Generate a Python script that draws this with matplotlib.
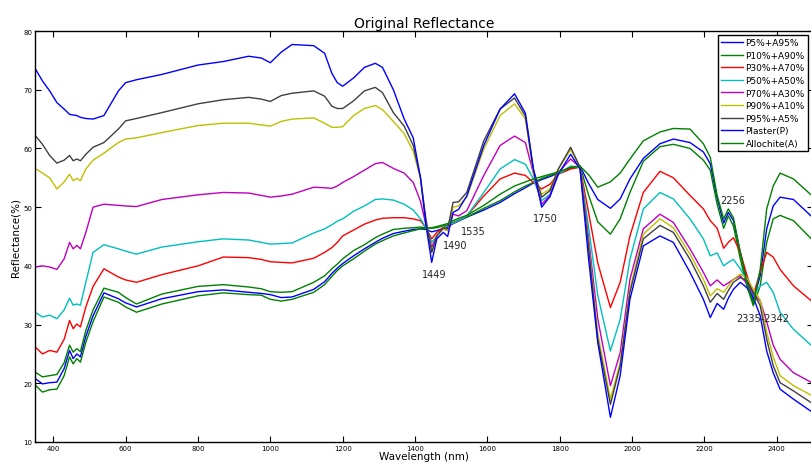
import matplotlib
matplotlib.use("Agg")
import matplotlib.pyplot as plt
import numpy as np

# wavelength grid (nm)
wavelength = [350, 370, 390, 410, 430, 445, 455, 465, 475, 490, 510, 540, 580, 600, 630,
              700, 800, 870, 940, 975, 1000, 1030, 1060, 1120, 1150, 1170, 1185, 1200,
              1230, 1260, 1290, 1310, 1340, 1370, 1395, 1415, 1430, 1446, 1460, 1478,
              1490, 1505, 1520, 1543, 1590, 1635, 1675, 1705, 1727, 1750, 1773, 1796,
              1830, 1856,
              1880, 1905, 1940, 1967, 1994, 2031, 2077, 2114, 2160, 2197, 2216, 2235,
              2253, 2266, 2280, 2299, 2317, 2335, 2354, 2372, 2390, 2409, 2446, 2500]

p5_a95 = [20.8, 19.9, 20.1, 20.2, 22.5, 25.6, 24.2, 25.0, 24.5, 28.0, 31.5, 35.4, 34.4, 33.7, 33.0,
          34.4, 35.6, 35.9, 35.5, 35.3, 35.1, 34.6, 34.7, 36.0, 37.3, 38.7, 39.6, 40.4,
          41.7, 42.9, 44.0, 44.7, 45.5, 45.9, 46.2, 46.3, 46.2, 45.8, 46.0, 46.4,
          46.6, 47.2, 47.6, 48.3, 49.5, 50.8, 52.3, 53.3, 54.1, 54.7, 55.2, 55.8,
          56.6, 57.0,
          54.0, 51.3, 49.8, 51.4, 54.8, 58.3, 60.8, 61.6, 61.0, 59.4, 57.4, 51.5,
          47.3, 49.1, 47.7, 42.3, 37.7, 34.1, 38.3, 46.3, 50.2, 51.7, 51.3, 48.2]

p10_a90 = [21.9, 21.1, 21.3, 21.5, 23.5, 26.5, 25.3, 25.9, 25.4, 29.0, 32.5, 36.2, 35.5, 34.6, 33.5,
           35.2, 36.5, 36.8, 36.4, 36.1, 35.6, 35.5, 35.6, 37.2, 38.3, 39.5, 40.3, 41.2,
           42.6, 43.6, 44.8, 45.4, 46.2, 46.4, 46.5, 46.6, 46.5, 46.4, 46.5, 46.8,
           47.0, 47.4, 47.8, 48.3, 49.8, 51.1, 52.6, 53.6, 54.2, 54.9, 55.4, 55.9,
           56.6, 57.0,
           52.0, 47.5, 45.4, 48.0, 52.5, 57.8, 60.3, 60.7, 60.0, 58.0, 56.3, 50.5,
           46.4, 48.5, 46.8, 41.2, 36.6, 33.2, 36.6, 44.0, 48.0, 48.6, 47.7, 44.3]

p30_a70 = [26.2, 25.0, 25.6, 25.3, 27.5, 30.7, 29.3, 30.1, 29.6, 33.0, 36.5, 39.5, 38.1, 37.6, 37.2,
           38.5, 40.0, 41.5, 41.4, 41.1, 40.7, 40.6, 40.5, 41.3, 42.3, 43.1, 44.0, 45.1,
           46.1, 47.1, 47.8, 48.1, 48.2, 48.2, 48.0, 47.7, 46.5, 44.6, 45.7, 46.5,
           46.8, 47.2, 47.7, 48.5, 51.9, 54.8, 55.8, 55.4, 54.2, 53.1, 53.9, 55.6,
           56.5, 56.8,
           49.0, 40.5, 32.9, 37.2, 45.1, 52.5, 56.1, 55.0, 52.0, 49.7, 47.7, 46.4,
           43.0, 44.0, 44.8, 42.3, 38.5, 35.0, 39.0, 42.3, 41.5, 39.4, 36.6, 33.8]

p50_a50 = [32.1, 31.3, 31.6, 31.0, 32.5, 34.5, 33.3, 33.5, 33.3, 37.2, 42.3, 43.6, 42.9, 42.5, 42.0,
           43.2, 44.1, 44.6, 44.4, 44.0, 43.7, 43.8, 43.9, 45.6, 46.3, 47.0, 47.6, 48.0,
           49.3, 50.2, 51.3, 51.4, 51.2, 50.5, 49.5, 48.0, 46.5, 44.0, 45.1, 46.4,
           46.8, 47.3, 47.7, 48.5, 52.5, 56.5, 58.1, 57.3, 54.8, 51.1, 52.2, 55.6,
           57.0, 56.8,
           46.5, 35.0, 25.5, 30.9, 41.1, 49.7, 52.5, 51.4, 48.0, 44.6, 41.7, 42.2,
           40.0, 40.6, 41.1, 39.5, 37.5, 34.9, 36.6, 37.2, 35.5, 32.1, 29.2, 26.2]

p70_a30 = [39.8, 40.0, 39.8, 39.4, 41.2, 44.0, 42.9, 43.5, 42.9, 45.7, 50.0, 50.5, 50.3, 50.2, 50.1,
           51.3, 52.1, 52.5, 52.4, 52.0, 51.7, 51.9, 52.2, 53.4, 53.3, 53.2, 53.6, 54.2,
           55.2, 56.3, 57.4, 57.6, 56.6, 55.8, 54.2, 51.0, 47.0, 43.2, 45.1, 46.3,
           46.0, 48.8, 48.5, 49.4, 55.4, 60.5, 62.1, 61.0, 55.8, 50.5, 52.0, 55.9,
           58.2, 56.8,
           44.5, 31.0, 19.6, 25.2, 37.7, 46.3, 48.8, 47.4, 42.9, 38.9, 36.6, 37.6,
           36.6, 37.1, 37.7, 38.3, 37.0, 35.2, 34.0, 30.5, 26.5, 24.1, 21.8, 20.0]

p90_a10 = [56.6, 55.8, 55.0, 53.1, 54.3, 55.6, 54.5, 54.9, 54.5, 56.5, 58.0, 59.2, 61.0, 61.6, 61.8,
           62.7, 63.9, 64.3, 64.3, 64.0, 63.8, 64.6, 65.0, 65.2, 64.3, 63.6, 63.6, 63.7,
           65.6, 66.8, 67.3, 66.6, 64.6, 62.5, 59.5, 55.0, 47.5, 42.3, 45.1, 46.3,
           46.0, 50.0, 50.2, 51.7, 59.9, 65.6, 67.6, 65.0, 55.9, 52.2, 53.1, 56.5,
           59.8, 56.8,
           43.5, 28.5, 17.3, 23.5, 36.0, 45.4, 48.0, 46.5, 42.0, 37.7, 34.9, 36.1,
           35.5, 36.6, 37.7, 38.6, 38.0, 36.0, 34.2, 28.7, 24.5, 21.3, 19.6, 17.8]

p95_a5 = [62.2, 60.7, 58.8, 57.5, 58.0, 58.8, 57.9, 58.2, 57.9, 59.0, 60.2, 61.0, 63.3, 64.7, 65.1,
          66.1, 67.6, 68.3, 68.7, 68.4, 68.0, 69.0, 69.4, 69.8, 68.9, 67.2, 66.8, 66.8,
          68.1, 69.8, 70.4, 69.5, 66.1, 63.8, 60.5, 55.0, 48.0, 42.3, 45.1, 46.5,
          46.3, 50.8, 50.9, 52.5, 61.3, 66.7, 68.6, 65.5, 56.5, 51.7, 52.8, 56.5,
          60.2, 56.8,
          43.0, 27.5, 16.4, 23.0, 35.5, 44.6, 46.9, 45.7, 41.1, 36.6, 33.8, 35.3,
          34.3, 35.8, 37.2, 38.0, 37.5, 35.5, 33.2, 27.5, 23.0, 20.1, 18.7, 16.5]

plaster = [73.6, 71.5, 69.8, 67.8, 66.7, 65.8, 65.7, 65.6, 65.3, 65.1, 65.0, 65.6, 69.8, 71.2, 71.7,
           72.6, 74.2, 74.8, 75.7, 75.4, 74.6, 76.4, 77.7, 77.5, 76.2, 72.8, 71.2, 70.6,
           72.0, 73.8, 74.5, 73.8, 70.0, 65.0, 61.8, 55.0, 47.0, 40.6, 44.6, 45.7,
           45.0, 49.1, 49.6, 51.9, 60.5, 66.7, 69.3, 66.0, 56.5, 50.0, 51.8, 55.6,
           59.0, 56.5,
           41.0, 27.0, 14.2, 21.3, 34.3, 43.4, 45.1, 44.0, 38.9, 34.3, 31.2, 33.6,
           32.6, 34.5, 36.0, 37.2, 36.3, 34.6, 31.5, 25.5, 21.8, 19.0, 17.3, 15.0]

allochite = [19.7, 18.5, 18.9, 19.0, 21.3, 24.5, 23.3, 24.2, 23.6, 27.0, 30.5, 34.7, 33.8, 33.0, 32.1,
             33.5, 34.9, 35.4, 35.1, 35.0, 34.3, 34.0, 34.3, 35.5, 36.8, 38.2, 39.2, 40.0,
             41.2, 42.5, 43.7, 44.3, 45.1, 45.6, 46.0, 46.3, 46.4, 46.5, 46.7, 47.0,
             47.2, 47.7, 48.1, 48.6, 50.3, 52.2, 53.6, 54.3, 54.8, 55.2, 55.6, 56.0,
             56.8, 57.0,
             55.5, 53.4, 54.3, 55.8, 58.2, 61.3, 62.8, 63.4, 63.3, 60.8, 58.5, 52.0,
             48.0, 49.7, 48.2, 42.3, 37.2, 33.5, 39.4, 49.7, 53.6, 55.8, 54.8, 51.8]

labels = ["P5%+A95%", "P10%+A90%", "P30%+A70%", "P50%+A50%", "P70%+A30%",
          "P90%+A10%", "P95%+A5%", "Plaster(P)", "Allochite(A)"]
series = [p5_a95, p10_a90, p30_a70, p50_a50, p70_a30, p90_a10, p95_a5, plaster, allochite]
colors = ["#0000ff", "#008000", "#ff0000", "#00bfbf", "#bf00bf",
          "#bfbf00", "#404040", "#0000ff", "#008000"]

# band annotations: text, x, y
band_text = ["1449", "1490", "1535", "1750", "2256", "2335-2342"]
band_x = [1452, 1510, 1562, 1759, 2278, 2361]
band_y = [38.6, 43.5, 46.0, 48.1, 51.3, 31.1]

fig = plt.figure(figsize=(8.11, 4.64), dpi=100)
ax = fig.add_axes([35.2 / 811, 1 - 443 / 464, (813 - 35.2) / 811, (443 - 32) / 464])

for vals, lab, col in zip(series, labels, colors):
    ax.plot(wavelength, vals, color=col, linewidth=1.0, label=lab)

for t, x, y in zip(band_text, band_x, band_y):
    ax.text(x, y, t, fontsize=7, ha="center", va="center", color="#222222")

ax.set_xlim(350, 2500)
ax.set_ylim(10, 80)
ax.set_xticks(np.arange(400, 2401, 200))
ax.set_yticks(np.arange(10, 81, 10))
ax.tick_params(direction="in", length=4, width=0.8, labelsize=5, pad=2,
               top=True, right=True)
for s in ax.spines.values():
    s.set_linewidth(1.0)

ax.set_title("Original Reflectance", fontsize=10, pad=3)
ax.set_xlabel("Wavelength (nm)", fontsize=7.5, labelpad=0)
ax.set_ylabel("Reflectance(%)", fontsize=7.5, labelpad=2)

leg = ax.legend(loc="upper right", bbox_to_anchor=(808 / 811, 1 - 36 / 464),
                bbox_transform=fig.transFigure, fontsize=6.5, frameon=True,
                fancybox=False, framealpha=1, edgecolor="black",
                handlelength=2.4, labelspacing=0.4, borderpad=0.35,
                handletextpad=0.3, borderaxespad=0)
leg.get_frame().set_linewidth(1.0)

fig.savefig("out.png", dpi=100)
